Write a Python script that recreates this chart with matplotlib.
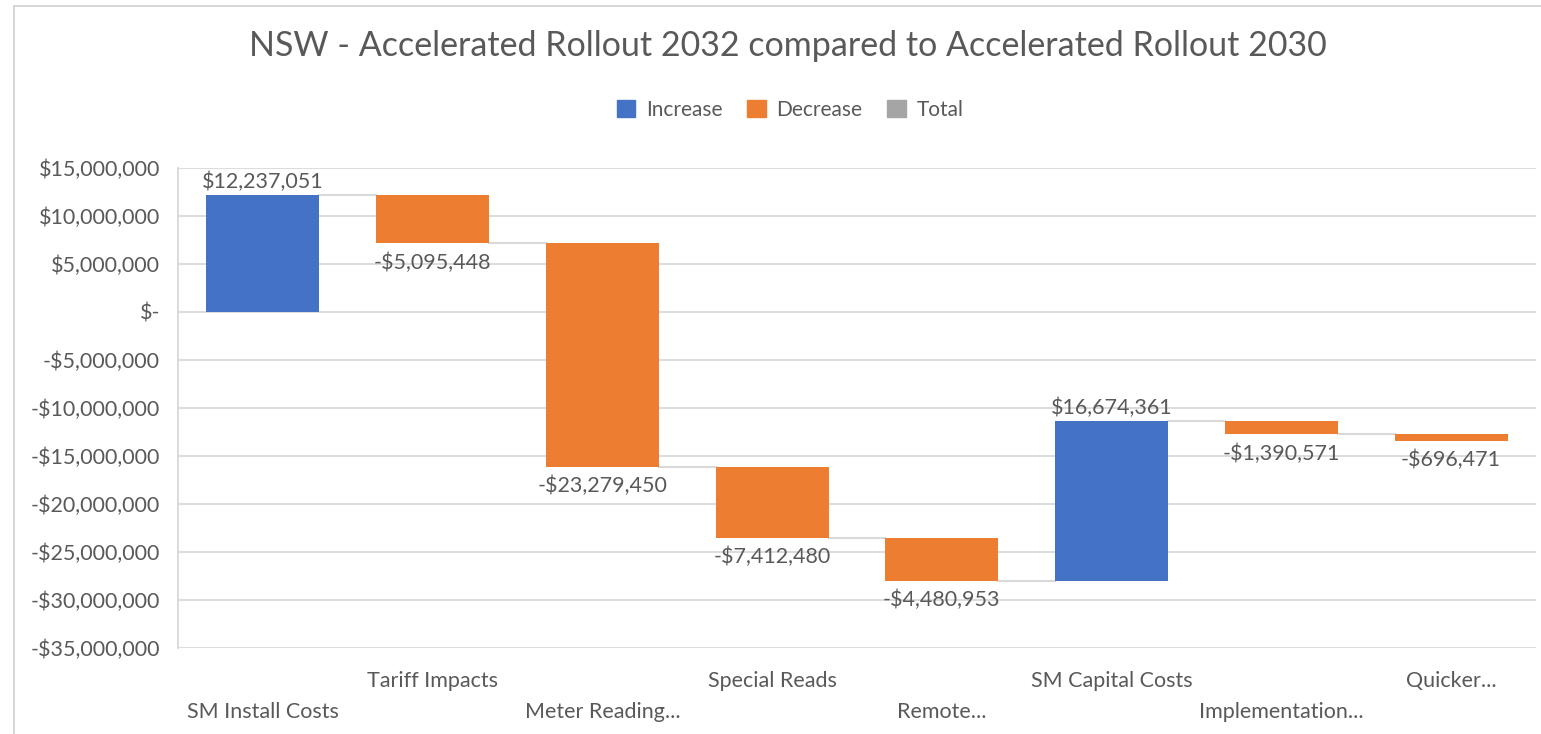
import matplotlib.pyplot as plt
from matplotlib.patches import Patch, Rectangle
from matplotlib.ticker import FuncFormatter

plt.rcParams['font.family'] = ['Lato', 'DejaVu Sans']

categories = ["SM Install Costs", "Tariff Impacts", "Meter Reading...", "Special Reads",
              "Remote...", "SM Capital Costs", "Implementation...", "Quicker..."]
changes = [12237051, -5095448, -23279450, -7412480, -4480953, 16674361, -1390571, -696471]

BLUE = "#4472C4"
ORANGE = "#ED7D31"
GREY = "#A5A5A5"
TXT = "#595959"
GRID = "#D9D9D9"
FS = 15.5


def money(v):
    if v == 0:
        return "$-"
    if v < 0:
        return "-${:,.0f}".format(abs(v))
    return "${:,.0f}".format(v)


fig = plt.figure(figsize=(15.41, 7.34), dpi=100)
ax = fig.add_axes([178 / 1541, 86 / 734, 1358 / 1541, 480 / 734])

# outer chart frame
fig.patches.append(Rectangle((14 / 1541, -0.05), 1.1, 1 - 6 / 734 + 0.05, transform=fig.transFigure,
                             fill=False, edgecolor="#D0D0D0", linewidth=1.2))

width = 0.665
level = 0
bases = []
for i, v in enumerate(changes):
    start = level
    level = level + v
    bases.append((start, level))
    color = BLUE if v > 0 else ORANGE
    ax.bar(i, v, bottom=start, width=width, color=color, zorder=3)
    if v > 0:
        ax.annotate(money(v), (i, level), xytext=(0, 2), textcoords="offset points",
                    ha="center", va="bottom", fontsize=FS, color=TXT)
    else:
        ax.annotate(money(v), (i, level), xytext=(0, -6.5), textcoords="offset points",
                    ha="center", va="top", fontsize=FS, color=TXT)

# connector lines between bars
for i in range(len(changes) - 1):
    y = bases[i][1]
    ax.plot([i + width / 2, i + 1 - width / 2], [y, y], color=GRID, lw=1.5, zorder=2)

ax.set_xlim(-0.5, len(changes) - 0.5)
ax.set_ylim(-35000000, 15000000)
ax.set_yticks(range(-35000000, 15000001, 5000000))
ax.yaxis.set_major_formatter(FuncFormatter(lambda v, p: money(v)))
ax.grid(axis="y", color=GRID, lw=1.3, zorder=0)
ax.tick_params(axis="y", length=0, pad=13, labelsize=FS, labelcolor=TXT)

ax.set_xticks(range(len(categories)))
ax.set_xticklabels(categories)
ax.tick_params(axis="x", length=0, labelsize=FS, labelcolor=TXT)
for i, t in enumerate(ax.xaxis.get_major_ticks()):
    t.set_pad(39 if i % 2 == 0 else 16.5)

for s in ["top", "right", "bottom"]:
    ax.spines[s].set_visible(False)
ax.spines["left"].set_color(GRID)
ax.spines["left"].set_linewidth(1.3)

fig.text(788 / 1541, 1 - 46 / 734, "NSW - Accelerated Rollout 2032 compared to Accelerated Rollout 2030",
         ha="center", va="center", fontsize=24.5, color=TXT)

handles = [Patch(color=BLUE, label="Increase"), Patch(color=ORANGE, label="Decrease"),
           Patch(color=GREY, label="Total")]
fig.legend(handles=handles, loc="center", bbox_to_anchor=(790 / 1541, 1 - 110 / 734), ncol=3,
           frameon=False, handlelength=0.9, handleheight=0.9, handletextpad=0.5,
           columnspacing=1.2, fontsize=15, labelcolor=TXT)

fig.savefig("out.png", dpi=100, facecolor="white")
